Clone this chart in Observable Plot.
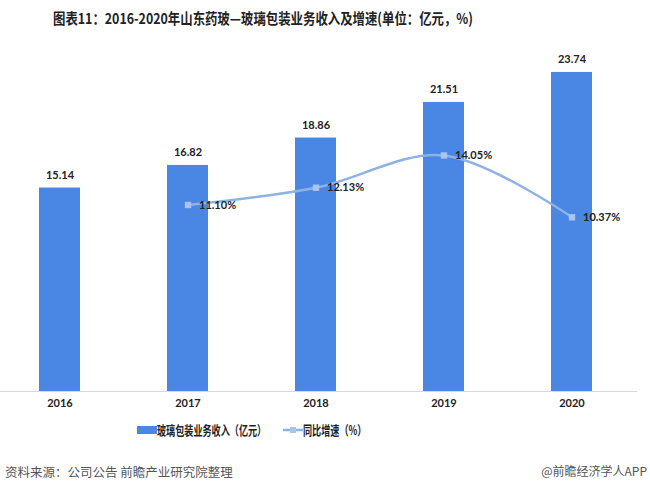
<!DOCTYPE html>
<html><head><meta charset="utf-8">
<script src="https://cdn.jsdelivr.net/npm/d3@7"></script>
<script src="https://cdn.jsdelivr.net/npm/@observablehq/plot@0.6"></script>
<style>
body{margin:0;background:#fff;}
#wrap{position:relative;width:650px;height:495px;font-family:"Noto Sans CJK SC",sans-serif;}
#title{position:absolute;left:53px;top:7px;font-family:"Liberation Sans Narrow","Noto Sans CJK SC",sans-serif;font-weight:bold;font-size:15px;color:#222;white-space:nowrap;transform:scaleX(0.826);transform-origin:0 0;}
#chart{position:absolute;left:0;top:38px;}
#legend{position:absolute;top:421px;left:0;width:650px;font-size:13px;font-weight:bold;color:#222;}
.lg{position:absolute;top:0;white-space:nowrap;line-height:18px;display:flex;align-items:center;}
.lg span{display:inline-block;transform:scaleX(0.7);transform-origin:0 50%;}
#src{position:absolute;left:5px;top:462px;font-size:12.5px;color:#555;}
#app{position:absolute;right:3px;top:462px;font-size:12px;color:#555;}
</style></head>
<body><div id="wrap">
<div id="title">图表11：2016-2020年山东药玻—玻璃包装业务收入及增速(单位：亿元，%)</div>
<div id="chart"></div>
<div id="legend">
 <div class="lg" style="left:137px"><svg width="20" height="18"><rect x="0" y="5" width="20" height="8" fill="#4a86e4"/></svg><span>玻璃包装业务收入（亿元）</span></div>
 <div class="lg" style="left:283px"><svg width="20" height="18"><line x1="0" x2="20" y1="9" y2="9" stroke="#8db3e2" stroke-width="2.5"/><rect x="7" y="6" width="6" height="6" fill="#a9c5ee"/></svg><span>同比增速（%）</span></div>
</div>
<div id="src">资料来源：公司公告 前瞻产业研究院整理</div>
<div id="app">@前瞻经济学人APP</div>
</div>
<script>
const years = ["2016","2017","2018","2019","2020"];
const revenue = [15.14, 16.82, 18.86, 21.51, 23.74];
const growthYears = ["2017","2018","2019","2020"];
const growth = [11.10, 12.13, 14.05, 10.37];

const barMax = 25, pctMax = 20;
const bars = years.map((y,i)=>({year:y, v:revenue[i]}));
const line = growthYears.map((y,i)=>({year:y, p:growth[i], v:growth[i]*barMax/pctMax}));

const font = "Lato, 'Open Sans', sans-serif";
const chart = Plot.plot({
  width: 650, height: 377,
  marginLeft: 0, marginRight: 13, marginTop: 17, marginBottom: 24,
  style: {fontFamily: font, fontSize: "11px", color: "#222", background: "transparent"},
  x: {type: "band", domain: years, paddingInner: 0.68, paddingOuter: 0.3, insetRight: 7, label: null, tickSize: 0, tickPadding: 8},
  y: {domain: [0, barMax], axis: null},
  marks: [
    Plot.barY(bars, {x: "year", y: "v", fill: "#4a86e4"}),
    Plot.text(bars, {x: "year", y: "v", text: d => d.v.toFixed(2), dy: -13, fontWeight: "bold", fontSize: 11, fill: "#222"}),
    Plot.ruleY([0], {stroke: "#d9d9d9", strokeWidth: 1}),
    Plot.line(line, {x: "year", y: "v", stroke: "#8db3e2", strokeWidth: 2.5, curve: "catmull-rom"}),
    Plot.dot(line, {x: "year", y: "v", symbol: "square", r: 3.6, fill: "#a9c5ee", stroke: "none"}),
    Plot.text(line, {x: "year", y: "v", text: d => d.p.toFixed(2) + "%", dx: 11, textAnchor: "start", fontWeight: "bold", fontSize: 11, fill: "#222"}),
    Plot.axisX({tickSize: 0, tickPadding: 8, fontWeight: "bold", fontSize: 11, label: null})
  ]
});
document.getElementById("chart").appendChild(chart);
</script>
</body></html>
